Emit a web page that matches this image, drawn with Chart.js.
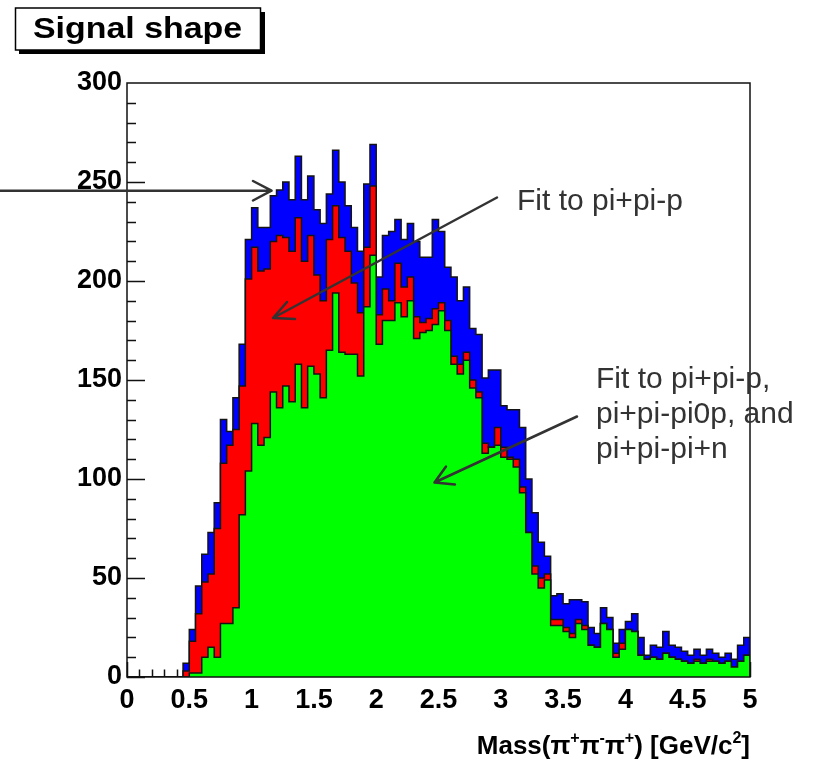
<!DOCTYPE html>
<html><head><meta charset="utf-8">
<script src="https://cdn.jsdelivr.net/npm/chart.js@4.4.0/dist/chart.umd.min.js"></script>
<style>html,body{margin:0;padding:0;background:#fff;}canvas{display:block;}</style>
</head><body>
<canvas id="c" width="819" height="765"></canvas>
<script>
// ---- data (100 bins of width 0.05 from 0 to 5) ----
const X_MIN = 0, X_MAX = 5, BIN_WIDTH = 0.05;
const binLowEdges = Array.from({length: 100}, (_, i) => +(i * BIN_WIDTH).toFixed(2));

// all signal (blue)
const totalCounts = [
  0,0,0,0,0,0,0,0,0,7,
  24,46,62,73,88,130,124,141,168,221,
  237,227,227,243,246,250,241,263,241,253,
  236,229,244,266,250,238,227,215,249,269,
  202,223,225,231,221,229,220,212,212,231,
  225,207,202,190,197,176,173,151,155,155,
  137,135,135,126,100,83,68,61,41,42,
  37,39,39,38,25,22,35,30,17,24,
  28,32,20,11,16,15,23,16,15,13,
  11,14,11,14,12,10,12,9,16,20];
// fit to pi+pi-p (red)
const fitPipipCounts = [
  0,0,0,0,0,0,0,0,0,3,
  18,32,48,52,75,108,117,125,147,201,
  217,205,206,220,223,222,215,232,210,223,
  203,190,221,238,222,215,199,184,217,248,
  183,196,190,209,197,202,182,179,181,186,
  189,180,162,158,164,150,144,118,116,126,
  116,111,110,96,73,56,50,52,29,29,
  25,22,29,26,16,15,27,24,12,17,
  24,23,11,9,10,9,12,10,9,8,
  7,9,7,9,8,7,8,5,8,11];
// fit to pi+pi-p, pi+pi-pi0p and pi+pi-pi+n (green)
const fitAllCounts = [
  0,0,0,0,0,0,0,0,0,0,
  2,2,10,15,10,27,27,35,82,104,
  128,117,121,144,136,147,139,158,136,157,
  153,141,165,194,164,163,163,152,187,213,
  168,180,180,189,182,190,171,174,175,178,
  185,175,158,153,160,146,141,113,116,117,
  111,110,106,93,73,52,45,49,26,26,
  23,20,27,24,16,15,27,24,10,14,
  24,23,11,9,10,9,12,10,9,8,
  7,8,7,8,8,7,8,5,8,11];

const xMajorStep = 0.5, xMinorStep = 0.1;
const yMin = 0, yMax = 300, yMajorStep = 50, yMinorStep = 10;

const titleText = 'Signal shape';
const annotation1 = ['Fit to pi+pi-p'];
const annotation2 = ['Fit to pi+pi-p,', 'pi+pi-pi0p, and', 'pi+pi-pi+n'];

// ---- helpers ----
function stepPoints(counts) {
  const pts = counts.map((v, i) => ({x: binLowEdges[i], y: v}));
  pts.push({x: X_MAX, y: 0});
  return pts;
}
const FONT = '"Liberation Sans", Arial, Helvetica, sans-serif';
const INK = '#333333';

function arrow(ctx, x1, y1, x2, y2, a1, a2) {
  ctx.beginPath();
  ctx.moveTo(x1, y1); ctx.lineTo(x2, y2);
  ctx.moveTo(a1[0], a1[1]); ctx.lineTo(x2, y2); ctx.lineTo(a2[0], a2[1]);
  ctx.stroke();
}

const rootPlugin = {
  id: 'rootStyle',
  beforeDatasetsDraw(chart) {
    const ctx = chart.ctx, ca = chart.chartArea, xs = chart.scales.x, ys = chart.scales.y;
    ctx.save();
    ctx.strokeStyle = '#111'; ctx.lineWidth = 1.5;
    ctx.beginPath();
    const nY = Math.round((yMax - yMin) / yMinorStep);
    for (let k = 0; k < nY; k++) {
      const v = yMin + k * yMinorStep;
      const py = Math.round(ys.getPixelForValue(v)) + 0.5;
      const len = (k % Math.round(yMajorStep / yMinorStep) === 0) ? 18 : 9;
      ctx.moveTo(ca.left, py); ctx.lineTo(ca.left + len, py);
    }
    const nX = Math.round((X_MAX - X_MIN) / xMinorStep);
    for (let k = 0; k <= nX; k++) {
      const v = X_MIN + k * xMinorStep;
      const px = Math.round(xs.getPixelForValue(v)) + 0.5;
      const len = (k % Math.round(xMajorStep / xMinorStep) === 0) ? 15 : 7.5;
      ctx.moveTo(px, ca.bottom); ctx.lineTo(px, ca.bottom - len);
    }
    ctx.stroke();
    ctx.restore();
  },
  afterDatasetsDraw(chart) {
    const ctx = chart.ctx, ca = chart.chartArea;
    ctx.save();
    ctx.strokeStyle = '#111'; ctx.lineWidth = 1.5;
    ctx.strokeRect(ca.left, ca.top, ca.right - ca.left, ca.bottom - ca.top);
    ctx.restore();
  },
  afterDraw(chart) {
    const ctx = chart.ctx, ca = chart.chartArea;
    ctx.save();
    // title box with shadow
    ctx.fillStyle = '#000';
    ctx.fillRect(19, 12, 246, 42);
    ctx.fillStyle = '#fff';
    ctx.fillRect(15.5, 8, 245, 42);
    ctx.strokeStyle = '#000'; ctx.lineWidth = 1.5;
    ctx.strokeRect(15.5, 8, 245, 42);
    ctx.fillStyle = '#000';
    ctx.font = 'bold 30px ' + FONT;
    ctx.textBaseline = 'alphabetic'; ctx.textAlign = 'left';
    ctx.save();
    ctx.translate(33, 38);
    ctx.scale(1.13, 1);
    ctx.fillText(titleText, 0, 0);
    ctx.restore();

    // x-axis title with superscripts, right-aligned to the frame
    const big = 'bold 26px ' + FONT, small = 'bold 16px ' + FONT;
    const parts = [['Mass(', 0], ['\u03c0', 0], ['+', 1], ['\u03c0', 0], ['-', 1], ['\u03c0', 0], ['+', 1], [') [GeV/c', 0], ['2', 1], [']', 0]];
    let w = 0;
    parts.forEach(p => { ctx.font = p[1] ? small : big; w += ctx.measureText(p[0]).width; });
    let x = ca.right - w;
    const base = 754;
    parts.forEach(p => {
      ctx.font = p[1] ? small : big;
      ctx.fillText(p[0], x, p[1] ? base - 11 : base);
      x += ctx.measureText(p[0]).width;
    });

    // annotations
    ctx.strokeStyle = INK; ctx.fillStyle = INK; ctx.lineWidth = 2.5;
    ctx.lineCap = 'round'; ctx.lineJoin = 'round';
    arrow(ctx, 0, 190.7, 271.5, 190.7, [253, 181], [253, 200.5]);
    arrow(ctx, 497, 197.5, 273, 318, [295, 319], [287, 302]);
    arrow(ctx, 577, 416.5, 434.5, 482.5, [455, 484.5], [446, 466.5]);
    ctx.font = '30px ' + FONT;
    ctx.fillText(annotation1[0], 517, 210);
    annotation2.forEach((t, i) => ctx.fillText(t, 596, 388 + i * 35));
    ctx.restore();
  }
};

const tickFont = {family: FONT, size: 27, weight: 'bold'};
const fmt = v => String(Number(Number(v).toFixed(2)));
new Chart(document.getElementById('c'), {
  type: 'line',
  data: {
    datasets: [
      {label: 'Fit to pi+pi-p, pi+pi-pi0p, and pi+pi-pi+n', data: stepPoints(fitAllCounts), backgroundColor: '#00ff00'},
      {label: 'Fit to pi+pi-p', data: stepPoints(fitPipipCounts), backgroundColor: '#ff0000'},
      {label: 'Signal', data: stepPoints(totalCounts), backgroundColor: '#0000ff'}
    ].map(d => Object.assign(d, {fill: 'origin', stepped: true, borderColor: '#141414', borderWidth: 1.5, pointRadius: 0, tension: 0}))
  },
  options: {
    responsive: false, animation: false, devicePixelRatio: 1,
    layout: {padding: {left: 0, top: 83, right: 69, bottom: 0}},
    plugins: {legend: {display: false}, tooltip: {enabled: false}, title: {display: false}},
    scales: {
      x: {type: 'linear', min: X_MIN, max: X_MAX,
          grid: {display: false, drawTicks: false}, border: {display: false},
          ticks: {stepSize: xMajorStep, padding: 7, color: '#000', font: tickFont, maxRotation: 0, autoSkip: false, callback: fmt},
          afterFit(s) { s.height = 88; }},
      y: {type: 'linear', min: yMin, max: yMax,
          grid: {display: false, drawTicks: false}, border: {display: false},
          ticks: {stepSize: yMajorStep, padding: 5, color: '#000', font: tickFont, callback: fmt},
          afterFit(s) { s.width = 127; }}
    }
  },
  plugins: [rootPlugin]
});
</script>
</body></html>
